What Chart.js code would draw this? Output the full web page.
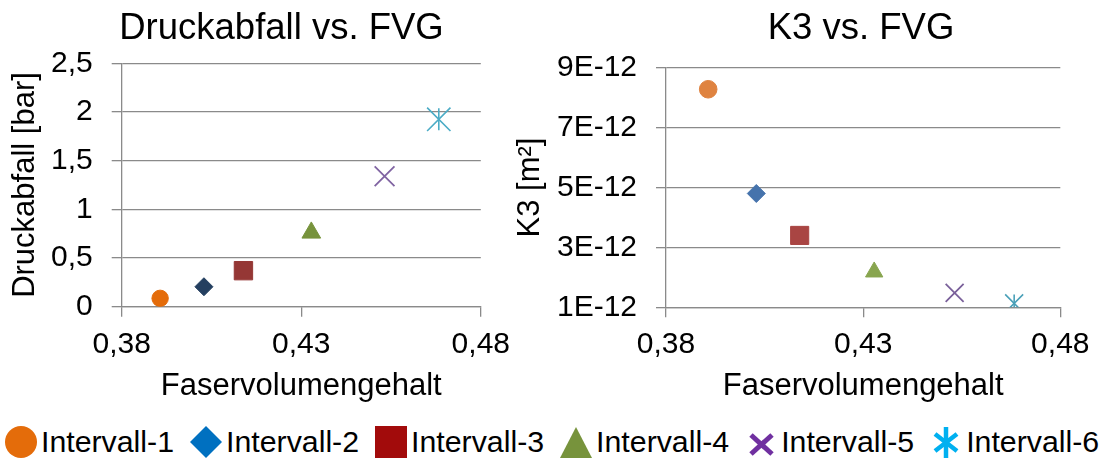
<!DOCTYPE html>
<html>
<head>
<meta charset="utf-8">
<script src="https://cdn.jsdelivr.net/npm/chart.js@4.4.1/dist/chart.umd.min.js"></script>
<style>
  html, body { margin: 0; padding: 0; background: #fff; }
  body { width: 1099px; height: 459px; position: relative; overflow: hidden;
         font-family: 'Liberation Sans', Arial, sans-serif; }
  #c1 { position: absolute; left: 0; top: 0; }
  #c2 { position: absolute; left: 500px; top: 0; }
  #legend { position: absolute; left: 5px; top: 426px; display: flex; white-space: nowrap; }
  .item { display: flex; align-items: center; height: 32px; margin-right: 16px; }
  .item svg { width: 32px; height: 32px; display: block; flex: none; }
  .item span { margin-left: 4px; font-size: 30.3px; line-height: 32px; color: #000; }
</style>
</head>
<body>
<canvas id="c1" width="520" height="410"></canvas>
<canvas id="c2" width="599" height="410"></canvas>
<div id="legend"></div>
<script>
// ---- data ----
const seriesNames = ['Intervall-1', 'Intervall-2', 'Intervall-3', 'Intervall-4', 'Intervall-5', 'Intervall-6'];
const fvg         = [0.3907, 0.4029, 0.4139, 0.4328, 0.4532, 0.4683];        // Faservolumengehalt
const druckabfall = [0.086, 0.205, 0.37, 0.76, 1.34, 1.925];                 // bar
const k3          = [8.28e-12, 4.8e-12, 3.4e-12, 2.18e-12, 1.48e-12, 1.13e-12]; // m²

const xTickValues  = [0.38, 0.43, 0.48];
const xTickLabels  = ['0,38', '0,43', '0,48'];
const dpTickValues = [0, 0.5, 1, 1.5, 2, 2.5];
const dpTickLabels = ['0', '0,5', '1', '1,5', '2', '2,5'];
const k3TickValues = [1e-12, 3e-12, 5e-12, 7e-12, 9e-12];
const k3TickLabels = ['1E-12', '3E-12', '5E-12', '7E-12', '9E-12'];

// ---- look ----
const FONT = "'Liberation Sans', Arial, sans-serif";
Chart.defaults.font.family = FONT;
Chart.defaults.color = '#000';
const GRID = '#8a8a8a';

const markerStyles = ['circle', 'rectRot', 'rect', 'triangle', 'crossRot', 'crossRot'];
const leftLook = {
  colors: ['#E46C0A', '#243F60', '#953735', '#77933C', '#8064A2', '#4BACC6'],
  radii:  [8.2, 9, 13, 10.8, 14, 16.5],
  borders:[1, 1, 1, 1, 1.8, 1.6],
  stem: 11
};
const rightLook = {
  colors: ['#DF8340', '#4673AC', '#A94543', '#88A54F', '#7B629B', '#4AA0B8'],
  radii:  [8.8, 9, 12.8, 10, 12.7, 12.7],
  borders:[1, 1, 1, 1, 1.8, 1.6],
  stem: 9
};
const legendColors = ['#E46C0A', '#0070C0', '#A20B0B', '#77933C', '#7030A0', '#00B0F0'];

function buildDatasets(yValues, look) {
  const sets = seriesNames.map((name, i) => ({
    label: name,
    data: [{ x: fvg[i], y: yValues[i] }],
    pointStyle: markerStyles[i],
    pointRadius: look.radii[i],
    pointHoverRadius: look.radii[i],
    pointBorderWidth: look.borders[i],
    backgroundColor: look.colors[i],
    borderColor: look.colors[i],
    showLine: false
  }));
  // vertical stroke of the asterisk marker of the last series
  sets.push({
    label: seriesNames[5],
    data: [{ x: fvg[5], y: yValues[5] }],
    pointStyle: 'line',
    rotation: 90,
    pointRadius: look.stem,
    pointHoverRadius: look.stem,
    pointBorderWidth: 1.6,
    backgroundColor: look.colors[5],
    borderColor: look.colors[5],
    showLine: false
  });
  return sets;
}

function buildScales(cfg) {
  return {
    x: {
      type: 'linear',
      min: xTickValues[0],
      max: xTickValues[xTickValues.length - 1],
      afterBuildTicks: s => { s.ticks = xTickValues.map(v => ({ value: v })); },
      afterFit: s => { s.height = cfg.xAxisHeight; },
      ticks: { callback: (v, i) => xTickLabels[i], font: { size: 30 }, color: '#000',
               padding: cfg.xTickPad, maxRotation: 0, autoSkip: false },
      grid: { drawOnChartArea: false, drawTicks: true, tickLength: 10, color: GRID, lineWidth: 1.3 },
      border: { display: true, color: GRID, width: 1.3 },
      title: { display: true, text: 'Faservolumengehalt', font: { size: 31 }, color: '#000',
               padding: { top: 0, bottom: 5 } }
    },
    y: {
      type: 'linear',
      min: cfg.yValues[0],
      max: cfg.yValues[cfg.yValues.length - 1],
      afterBuildTicks: s => { s.ticks = cfg.yValues.map(v => ({ value: v })); },
      afterFit: s => { s.width = cfg.yAxisWidth; },
      ticks: { callback: (v, i) => cfg.yLabels[i], font: { size: 30 }, color: '#000',
               padding: 19, autoSkip: false },
      grid: { drawOnChartArea: true, drawTicks: true, tickLength: 10, color: GRID, lineWidth: 1.3 },
      border: { display: true, color: GRID, width: 1.3 },
      title: { display: true, text: cfg.yTitle, font: { size: 31 }, color: '#000',
               padding: { top: cfg.yTitlePad, bottom: 0 } }
    }
  };
}

// panel heading drawn on the canvas
const panelTitle = {
  id: 'panelTitle',
  afterDraw(chart, args, opts) {
    const ctx = chart.ctx;
    ctx.save();
    ctx.font = opts.size + 'px ' + FONT;
    ctx.fillStyle = '#000';
    ctx.textAlign = 'center';
    ctx.textBaseline = 'alphabetic';
    ctx.fillText(opts.text, opts.x, opts.y);
    ctx.restore();
  }
};

function makeChart(id, yValues, look, cfg) {
  return new Chart(document.getElementById(id), {
    type: 'scatter',
    data: { datasets: buildDatasets(yValues, look) },
    options: {
      responsive: false,
      animation: false,
      events: [],
      layout: { padding: cfg.padding },
      scales: buildScales(cfg),
      plugins: {
        legend: { display: false },
        tooltip: { enabled: false },
        panelTitle: cfg.heading
      }
    },
    plugins: [panelTitle]
  });
}

makeChart('c1', druckabfall, leftLook, {
  padding: { left: 0, top: 63.3, right: 38.3, bottom: 0 },
  xAxisHeight: 103.3, yAxisWidth: 121.7, xTickPad: 10, yTitlePad: 7,
  yValues: dpTickValues, yLabels: dpTickLabels, yTitle: 'Druckabfall [bar]',
  heading: { text: 'Druckabfall vs. FVG', x: 281.5, y: 39, size: 36.5 }
});

makeChart('c2', k3, rightLook, {
  padding: { left: 0, top: 67.7, right: 36.3, bottom: 0 },
  xAxisHeight: 102.7, yAxisWidth: 166, xTickPad: 9.5, yTitlePad: 11.5,
  yValues: k3TickValues, yLabels: k3TickLabels, yTitle: 'K3 [m²]',
  heading: { text: 'K3 vs. FVG', x: 361, y: 39, size: 36.5 }
});

// ---- shared legend ----
const legendShapes = [
  c => `<circle cx="16" cy="16" r="16" fill="${c}"/>`,
  c => `<polygon points="16,0 32,16 16,32 0,16" fill="${c}"/>`,
  c => `<rect x="0" y="0" width="32" height="32" fill="${c}"/>`,
  c => `<polygon points="16,1 32,32 0,32" fill="${c}"/>`,
  c => `<g stroke="${c}" stroke-width="5"><line x1="6" y1="9" x2="27" y2="28"/><line x1="27" y1="9" x2="6" y2="28"/></g>`,
  c => `<g stroke="${c}" stroke-width="4.5"><line x1="16" y1="1" x2="16" y2="32"/><line x1="5" y1="8" x2="27" y2="25"/><line x1="27" y1="8" x2="5" y2="25"/></g>`
];
const legendEl = document.getElementById('legend');
seriesNames.forEach((name, i) => {
  const item = document.createElement('div');
  item.className = 'item';
  item.innerHTML = `<svg viewBox="0 0 32 32">${legendShapes[i](legendColors[i])}</svg><span>${name}</span>`;
  legendEl.appendChild(item);
});
</script>
</body>
</html>
